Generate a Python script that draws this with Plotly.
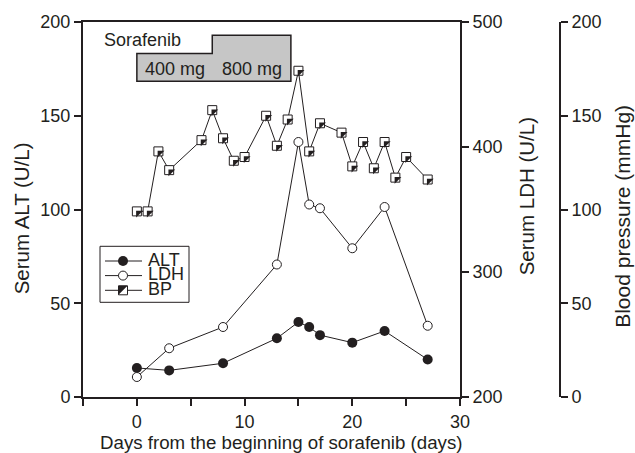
import plotly.graph_objects as go

# ---------------- data ----------------
days_lab = [0, 3, 8, 13, 15, 16, 17, 20, 23, 27]
alt = [15.5, 14.2, 18.0, 31.3, 40.0, 37.3, 33.0, 29.0, 35.2, 20.0]
ldh = [216, 239, 256, 306, 404, 354, 351, 319, 352, 257]
days_bp = [0, 1, 2, 3, 6, 7, 8, 9, 10, 12, 13, 14, 15, 16, 17, 19, 20, 21, 22, 23, 24, 25, 27]
bp = [99, 99, 131, 121, 137, 153, 138, 126, 128, 150, 134, 148, 174, 131, 146, 141,
      123, 136, 122, 136, 117, 128, 116]
dose_bounds = [0, 7, 14.3]
dose_labels = ["400 mg", "800 mg"]
x_tickvals = [-5, 0, 5, 10, 15, 20, 25, 30]
x_ticktext = ["", "0", "", "10", "", "20", "", "30"]
alt_ticks = [0, 50, 100, 150, 200]
ldh_ticks = [200, 300, 400, 500]
bp_ticks = [0, 50, 100, 150, 200]
series_names = ["ALT", "LDH", "BP"]

# ---------------- geometry / style ----------------
W, H = 635, 453
L, R, T, B = 83, 560, 21.7, 396.7       # plot area in px
X_RIGHT = 460                            # right end of the x axis (LDH axis)
XR = [-5, 30]
ALT_R = [0, 200]
LDH_R = [200, 500]
BP_R = [0, 200]
INK = "#231f20"
FONT = "Liberation Sans"
FS = 18


def px(x):
    return (x - L) / (R - L)


def py(y):
    return (B - y) / (B - T)


xdom = [0, px(X_RIGHT)]
px_per_day = (X_RIGHT - L) / (XR[1] - XR[0])
px_per_unit = (B - T) / (ALT_R[1] - ALT_R[0])
SHIFT = 1.5
dx = SHIFT / px_per_day
dy = SHIFT / px_per_unit

fig = go.Figure()

fig.add_trace(go.Scatter(
    x=days_lab, y=alt, name="ALT", mode="lines+markers", yaxis="y",
    line=dict(color=INK, width=1),
    marker=dict(symbol="circle", size=10, color=INK, line=dict(width=0)),
    showlegend=False))

fig.add_trace(go.Scatter(
    x=days_lab, y=ldh, name="LDH", mode="lines+markers", yaxis="y2",
    line=dict(color=INK, width=1),
    marker=dict(symbol="circle", size=9, color="white", line=dict(color=INK, width=1)),
    showlegend=False))

fig.add_trace(go.Scatter(
    x=days_bp, y=bp, name="BP", mode="lines+markers", yaxis="y3",
    line=dict(color=INK, width=1),
    marker=dict(symbol="square", size=9, color="white", line=dict(color=INK, width=1)),
    showlegend=False))

# black upper-left half of the BP squares (same data, on slightly shifted twin axes)
fig.add_trace(go.Scatter(
    x=days_bp, y=bp, name="BP", mode="markers", xaxis="x2", yaxis="y4",
    marker=dict(symbol="triangle-nw", size=7.5, color=INK, line=dict(width=0)),
    showlegend=False, hoverinfo="skip"))

axis_style = dict(showline=True, linecolor=INK, linewidth=2, ticks="outside",
                  ticklen=7, tickwidth=2, tickcolor=INK, showgrid=False,
                  zeroline=False, tickfont=dict(family=FONT, size=FS, color=INK))

fig.update_layout(
    width=W, height=H,
    margin=dict(l=L, r=W - R, t=T, b=H - B, pad=0),
    paper_bgcolor="white", plot_bgcolor="white",
    font=dict(family=FONT, size=FS, color=INK),
    showlegend=False,
    xaxis=dict(domain=xdom, range=XR, tickmode="array", tickvals=x_tickvals,
               ticktext=x_ticktext, mirror=True, anchor="y", **axis_style),
    yaxis=dict(range=ALT_R, tickmode="array", tickvals=alt_ticks, anchor="x",
               **axis_style),
    yaxis2=dict(range=LDH_R, tickmode="array", tickvals=ldh_ticks, overlaying="y",
                side="right", anchor="x", **axis_style),
    yaxis3=dict(range=BP_R, tickmode="array", tickvals=bp_ticks, overlaying="y",
                side="right", anchor="free", position=1.0, **axis_style),
    xaxis2=dict(range=[XR[0] - dx, XR[1] - dx], overlaying="x", anchor="y4",
                visible=False),
    yaxis4=dict(range=[BP_R[0] + dy, BP_R[1] + dy], overlaying="y", anchor="x2",
                visible=False),
)

# ---------------- axis titles ----------------
def title(text, xc, yc, size, angle=-90):
    fig.add_annotation(x=px(xc), y=py(yc), xref="paper", yref="paper", text=text,
                       textangle=angle, showarrow=False, xanchor="center",
                       yanchor="middle", font=dict(family=FONT, size=size, color=INK))


title("Serum ALT (U/L)", 21, 218, 20.5)
title("Serum LDH (U/L)", 526, 196, 20.5)
title("Blood pressure (mmHg)", 622.5, 216, 21)
title("Days from the beginning of sorafenib (days)", 281, 442.5, 18.7, angle=0)

# ---------------- sorafenib dosing box ----------------
x0, x1, x2 = dose_bounds
ylow, ymid, yhigh = py(81), py(53.3), py(35)
fig.add_shape(type="path", xref="x", yref="paper",
              path=f"M {x0},{ylow} L {x0},{ymid} L {x1},{ymid} L {x1},{yhigh} "
                   f"L {x2},{yhigh} L {x2},{ylow} Z",
              fillcolor="#c6c6c6", line=dict(color=INK, width=1.5), layer="above")
for i, lab in enumerate(dose_labels):
    fig.add_annotation(x=(dose_bounds[i] + dose_bounds[i + 1]) / 2, xref="x",
                       y=py(68.8), yref="paper", text=lab, showarrow=False,
                       xanchor="center", yanchor="middle",
                       font=dict(family=FONT, size=FS, color=INK))
fig.add_annotation(x=px(102), y=py(40), xref="paper", yref="paper", text="Sorafenib",
                   showarrow=False, xanchor="left", yanchor="middle",
                   font=dict(family=FONT, size=FS, color=INK))

# ---------------- legend (drawn) ----------------
fig.add_shape(type="rect", xref="paper", yref="paper", x0=px(100), x1=px(189),
              y0=py(302), y1=py(246), fillcolor="white", line=dict(color=INK, width=1),
              layer="above")
entry_y = [260.7, 275.3, 290]
for name, ey in zip(series_names, entry_y):
    fig.add_shape(type="line", xref="paper", yref="paper", x0=px(105), x1=px(142),
                  y0=py(ey), y1=py(ey), line=dict(color=INK, width=1), layer="above")
    fig.add_annotation(x=px(146), y=py(ey - 1.5), xref="paper", yref="paper", text=name,
                       showarrow=False, xanchor="left", yanchor="middle",
                       font=dict(family=FONT, size=FS, color=INK))
cx = 123
fig.add_shape(type="circle", xref="paper", yref="paper",
              x0=px(cx - 5), x1=px(cx + 5), y0=py(entry_y[0] + 5), y1=py(entry_y[0] - 5),
              fillcolor=INK, line=dict(color=INK, width=0), layer="above")
fig.add_shape(type="circle", xref="paper", yref="paper",
              x0=px(cx - 4.5), x1=px(cx + 4.5), y0=py(entry_y[1] + 4.5),
              y1=py(entry_y[1] - 4.5),
              fillcolor="white", line=dict(color=INK, width=1), layer="above")
by = entry_y[2]
fig.add_shape(type="rect", xref="paper", yref="paper",
              x0=px(cx - 4.5), x1=px(cx + 4.5), y0=py(by + 4.5), y1=py(by - 4.5),
              fillcolor="white", line=dict(color=INK, width=1), layer="above")
fig.add_shape(type="path", xref="paper", yref="paper",
              path=f"M {px(cx - 4.5)},{py(by - 4.5)} L {px(cx + 4.5)},{py(by - 4.5)} "
                   f"L {px(cx - 4.5)},{py(by + 4.5)} Z",
              fillcolor=INK, line=dict(color=INK, width=0), layer="above")

fig.write_html("out.html", config={"displayModeBar": False},
               post_script="document.body.style.margin='0';"
                           "document.body.style.overflow='hidden';")
